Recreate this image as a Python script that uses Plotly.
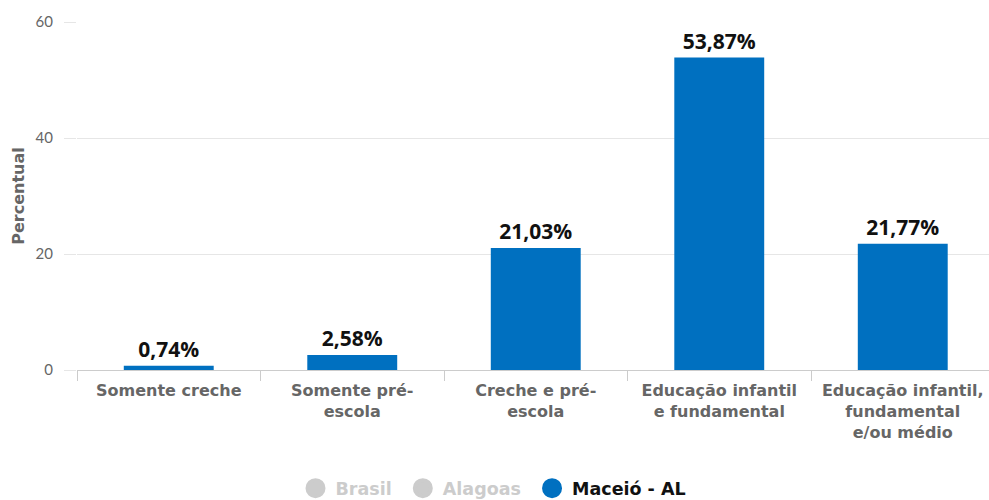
import plotly.graph_objects as go

categories = [
    "Somente creche",
    "Somente pré-<br>escola",
    "Creche e pré-<br>escola",
    "Educação infantil<br>e fundamental",
    "Educação infantil,<br>fundamental<br>e/ou médio",
]
values = [0.74, 2.58, 21.03, 53.87, 21.77]
labels = [f"{v:.2f}%".replace(".", ",") for v in values]
legend_names = ["Brasil", "Alagoas", "Maceió - AL"]
y_ticks = [0, 20, 40, 60]
y_title = "Percentual"

BLUE = "#0070c0"
FONT = "Lato"
CAT_FONT = "DejaVu Sans"

fig = go.Figure()
fig.add_trace(go.Bar(
    x=categories, y=values, text=labels, textposition="outside",
    textfont=dict(family="Open Sans", size=21, color="#111", weight="bold"),
    marker=dict(color=BLUE, line=dict(width=0)), width=0.49,
    cliponaxis=False, showlegend=False,
))
leg_colors = ["#cccccc", "#cccccc", BLUE]
text_colors = ["#cccccc", "#cccccc", "#111111"]
pads = ["&nbsp;", "&nbsp;", ""]
for name, mc, tc, pad in zip(legend_names, leg_colors, text_colors, pads):
    fig.add_trace(go.Scatter(
        x=[None], y=[None], mode="markers",
        marker=dict(symbol="circle", size=16, color=mc, line=dict(width=4, color=mc)),
        name=f"<span style='color:{tc}'>{name}</span>{pad}",
    ))

fig.add_annotation(
    text=y_title, textangle=-90, showarrow=False,
    xref="paper", yref="paper", x=-0.065, y=0.5, xanchor="center", yanchor="middle",
    font=dict(size=16, color="#666", family=CAT_FONT, weight="bold"),
)

fig.update_layout(
    width=989, height=500,
    margin=dict(l=77, r=0, t=22, b=130, autoexpand=False),
    paper_bgcolor="white", plot_bgcolor="white",
    font=dict(family=FONT, color="#666"),
    legend=dict(orientation="h", xref="container", x=0.499, xanchor="center",
                y=-0.34, yanchor="middle",
                font=dict(size=17.5, family=CAT_FONT, weight="bold"),
                itemwidth=30, traceorder="normal"),
    xaxis=dict(
        range=[-0.5, 4.47], tickson="boundaries", ticks="outside", ticklen=10,
        tickcolor="#cccccc", showline=True, linecolor="#cccccc", linewidth=1,
        tickfont=dict(size=16, color="#666", family=CAT_FONT, weight="bold"),
        ticklabelstandoff=6, showgrid=False, fixedrange=True, automargin=False,
    ),
    yaxis=dict(
        range=[0, 60], tickvals=y_ticks, ticks="outside", ticklen=12, tickcolor="#e6e6e6",
        gridcolor="#e6e6e6", zeroline=False, showline=False, automargin=False,
        tickfont=dict(size=15, color="#666", family=FONT), ticklabelstandoff=8,
    ),
)

fig.write_html("out.html", config={"displayModeBar": False},
               post_script="document.body.style.margin='0';")
